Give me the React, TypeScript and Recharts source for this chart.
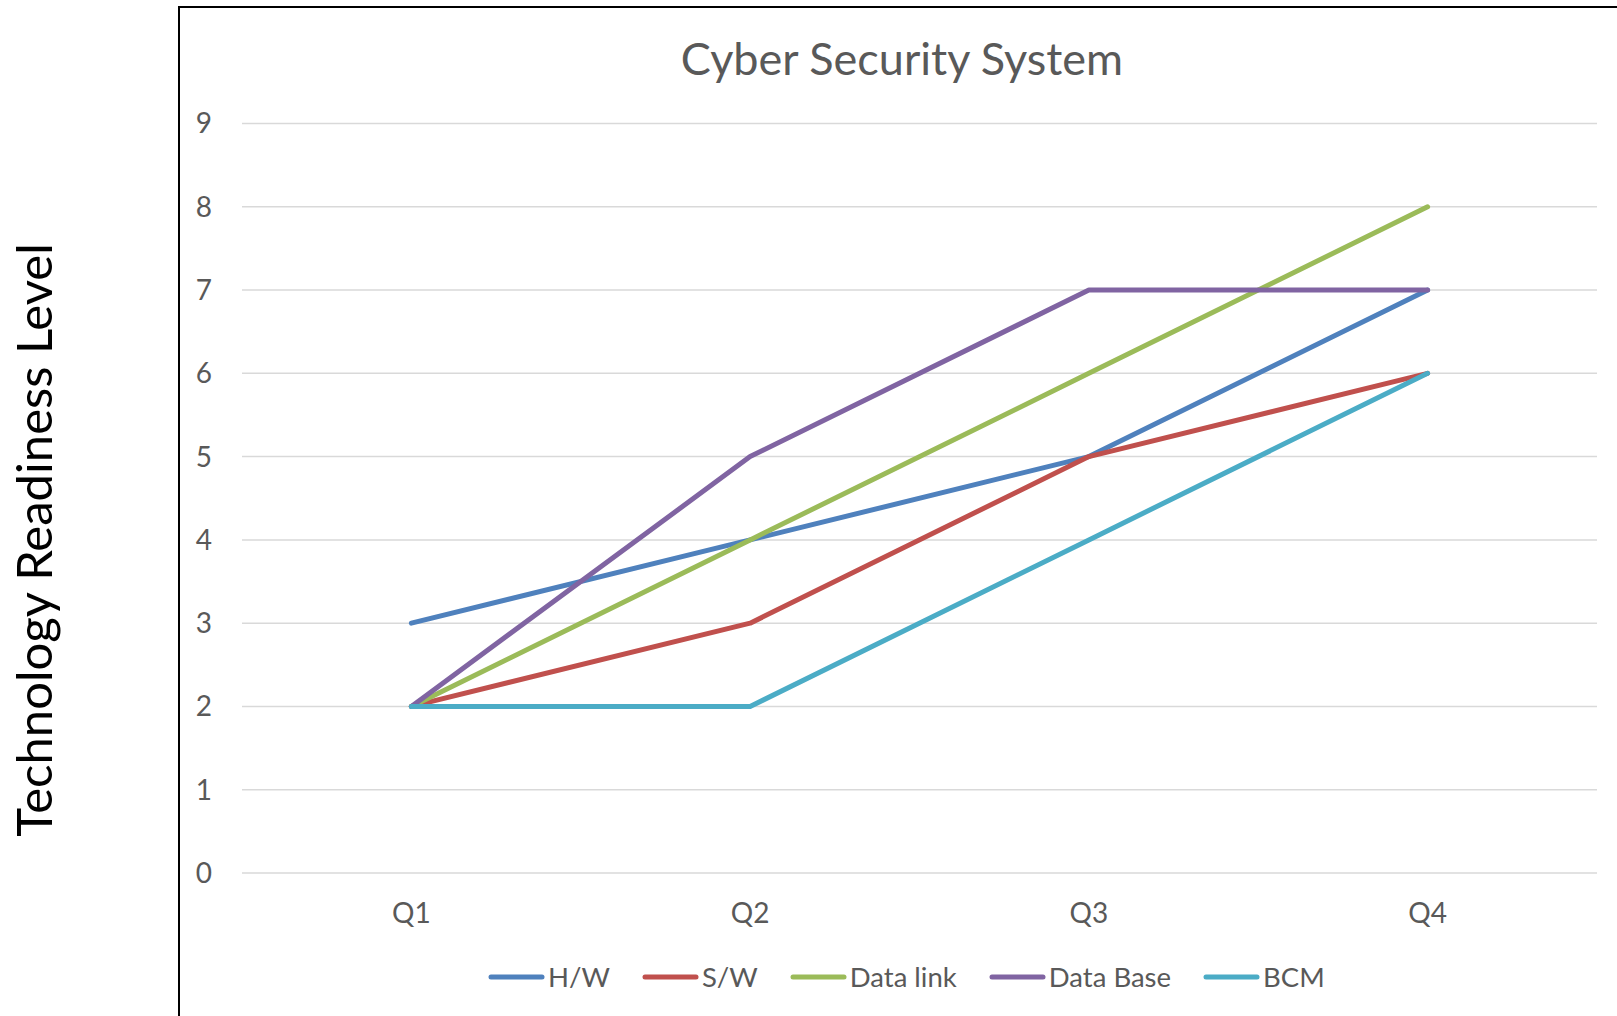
import { LineChart, Line, XAxis, YAxis, CartesianGrid } from "recharts";

const quarters = ["Q1", "Q2", "Q3", "Q4"];
const hw = [3, 4, 5, 7];
const sw = [2, 3, 5, 6];
const dataLink = [2, 4, 6, 8];
const dataBase = [2, 5, 7, 7];
const bcm = [2, 2, 4, 6];
const yTicks = [0, 1, 2, 3, 4, 5, 6, 7, 8, 9];

const series = [
    { key: "hw", name: "H/W", color: "#4F81BD" },
    { key: "sw", name: "S/W", color: "#C0504D" },
    { key: "dataLink", name: "Data link", color: "#9BBB59" },
    { key: "dataBase", name: "Data Base", color: "#8064A2" },
    { key: "bcm", name: "BCM", color: "#4BACC6" },
];

const data = quarters.map((q, i) => ({
    quarter: q,
    hw: hw[i],
    sw: sw[i],
    dataLink: dataLink[i],
    dataBase: dataBase[i],
    bcm: bcm[i],
}));

const FONT = "Lato, 'Open Sans', sans-serif";
const TEXT = "#595959";

function ChartLegend() {
    return (
        <div style={{ display: "flex", alignItems: "center", fontFamily: FONT, fontSize: 27.5, color: TEXT }}>
            {series.map((s) => (
                <div key={s.key} style={{ display: "flex", alignItems: "center", marginRight: 32 }}>
                    <svg width={57} height={10}>
                        <line x1={3} y1={5} x2={54} y2={5} stroke={s.color} strokeWidth={5} strokeLinecap="round" />
                    </svg>
                    <span style={{ marginLeft: 3, lineHeight: "30px" }}>{s.name}</span>
                </div>
            ))}
        </div>
    );
}

export default function App() {
    return (
        <div
            style={{
                position: "absolute",
                left: 0,
                top: 0,
                width: 1617,
                height: 1016,
                overflow: "hidden",
                background: "#fff",
            }}
        >
            <svg width={1617} height={1016} style={{ position: "absolute", left: 0, top: 0 }}>
                <rect x={179} y={7} width={1500} height={1100} fill="none" stroke="#000" strokeWidth={2} />
                <text x={902} y={75} textAnchor="middle" fontFamily={FONT} fontSize={45} fill={TEXT}>
                    Cyber Security System
                </text>
                <text
                    x={0}
                    y={0}
                    transform="translate(52, 540) rotate(-90)"
                    textAnchor="middle"
                    fontFamily={FONT}
                    fontSize={49}
                    fill="#000"
                >
                    Technology Readiness Level
                </text>
            </svg>
            <div style={{ position: "absolute", left: 0, top: 0 }}>
                <LineChart
                    width={1617}
                    height={1016}
                    data={data}
                    margin={{ top: 123.5, right: 20, bottom: 113, left: 0 }}
                >
                    <CartesianGrid vertical={false} stroke="#D9D9D9" strokeWidth={1.5} />
                    <XAxis
                        dataKey="quarter"
                        scale="band"
                        height={30}
                        axisLine={false}
                        tickLine={false}
                        tickMargin={24}
                        tick={{ fill: TEXT, fontSize: 28, fontFamily: FONT }}
                    />
                    <YAxis
                        width={242}
                        domain={[0, 9]}
                        ticks={yTicks}
                        interval={0}
                        axisLine={false}
                        tickLine={false}
                        tickMargin={24}
                        tick={{ fill: TEXT, fontSize: 28, fontFamily: FONT }}
                    />
                    {series.map((s) => (
                        <Line
                            key={s.key}
                            type="linear"
                            dataKey={s.key}
                            name={s.name}
                            stroke={s.color}
                            strokeWidth={5}
                            strokeLinecap="round"
                            strokeLinejoin="round"
                            dot={false}
                            activeDot={false}
                            isAnimationActive={false}
                        />
                    ))}
                </LineChart>
            </div>
            <div style={{ position: "absolute", left: 488, top: 962 }}>
                <ChartLegend />
            </div>
        </div>
    );
}
